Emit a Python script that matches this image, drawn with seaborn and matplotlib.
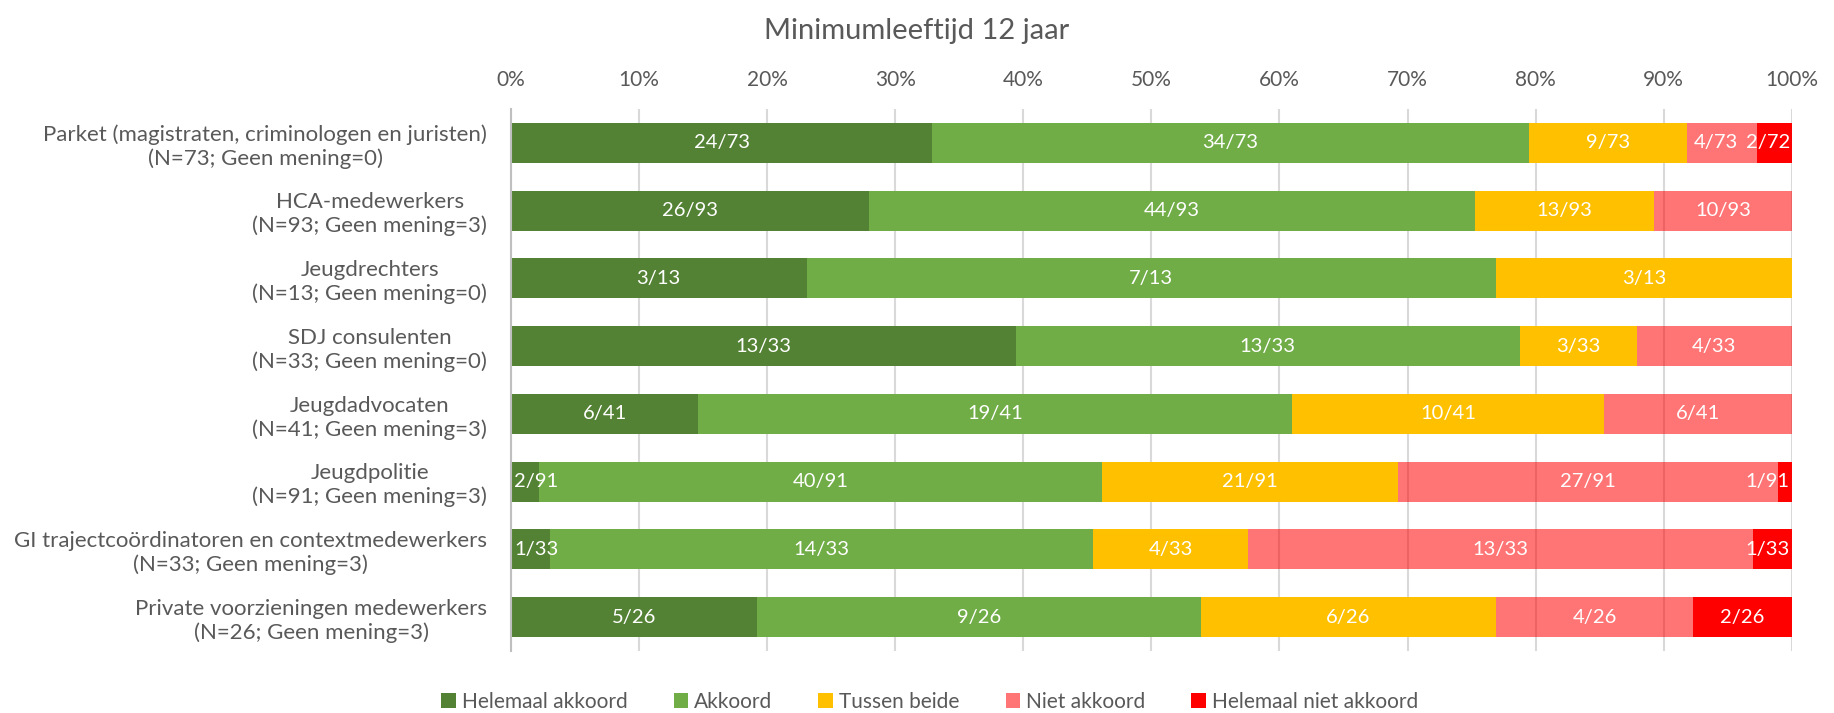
import seaborn as sns
import numpy as np
import pandas as pd
from matplotlib import pyplot as plt

categories = [
    "Parket (magistraten, criminologen en juristen)\n(N=73; Geen mening=0)",
    "HCA-medewerkers\n(N=93; Geen mening=3)",
    "Jeugdrechters\n(N=13; Geen mening=0)",
    "SDJ consulenten\n(N=33; Geen mening=0)",
    "Jeugdadvocaten\n(N=41; Geen mening=3)",
    "Jeugdpolitie\n(N=91; Geen mening=3)",
    "GI trajectcoördinatoren en contextmedewerkers\n(N=33; Geen mening=3)",
    "Private voorzieningen medewerkers\n(N=26; Geen mening=3)",
]
totals = [73, 93, 13, 33, 41, 91, 33, 26]

# counts per answer, one list per answer category (same order as categories)
helemaal_akkoord = [24, 26, 3, 13, 6, 2, 1, 5]
akkoord = [34, 44, 7, 13, 19, 40, 14, 9]
tussen_beide = [9, 13, 3, 3, 10, 21, 4, 6]
niet_akkoord = [4, 10, 0, 4, 6, 27, 13, 4]
helemaal_niet_akkoord = [2, 0, 0, 0, 0, 1, 1, 2]

# denominators printed on the labels (the original has "2/72" on the first row)
label_denoms_red = [72, 93, 13, 33, 41, 91, 33, 26]

series = ["Helemaal akkoord", "Akkoord", "Tussen beide", "Niet akkoord", "Helemaal niet akkoord"]
colors = ["#548235", "#70AD47", "#FFC000", (1.0, 0.0, 0.0, 0.54), "#FF0000"]

counts = [helemaal_akkoord, akkoord, tussen_beide, niet_akkoord, helemaal_niet_akkoord]

sns.set_style("white")
plt.rcParams['font.family'] = ['Lato', 'DejaVu Sans']
grey = "#595959"

fig = plt.figure(figsize=(18.34, 7.13), dpi=100)
ax = fig.add_axes([0.2786, 0.087, 0.6984, 0.760])

ax.set_axisbelow(True)
ax.xaxis.grid(True, color="#D9D9D9", linewidth=1.5)

left = np.zeros(len(categories))
rows = [[] for _ in categories]
for name, vals, col in zip(series, counts, colors):
    vals = np.array(vals, dtype=float)
    pct = vals / np.array(totals) * 100
    df = pd.DataFrame({"cat": categories, "pct": pct})
    sns.barplot(data=df, x="pct", y="cat", order=categories, orient="h",
                color=col, left=left.copy(), width=0.59, errorbar=None,
                saturation=1, linewidth=0, label=name, ax=ax)
    denoms = label_denoms_red if name == "Helemaal niet akkoord" else totals
    for i, (rect, v, d) in enumerate(zip(ax.containers[-1], vals, denoms)):
        if v <= 0:
            continue
        cx = rect.get_x() + rect.get_width() / 2
        cy = rect.get_y() + rect.get_height() / 2
        rows[i].append(ax.text(cx, cy, f"{int(v)}/{d}", ha="center", va="center",
                               color="white", fontsize=14.5))
    left += pct

ax.set_xlim(0, 100)
ax.set_xticks(np.arange(0, 101, 10))
ax.set_xticklabels([f"{t}%" for t in range(0, 101, 10)])
ax.xaxis.tick_top()
ax.tick_params(axis="x", length=0, pad=14, labelsize=15, labelcolor=grey)
ax.tick_params(axis="y", length=0, pad=17, labelsize=16, labelcolor=grey)
for lbl in ax.get_yticklabels():
    lbl.set_multialignment("center")
ax.set_xlabel("")
ax.set_ylabel("")
for s in ["top", "right", "bottom"]:
    ax.spines[s].set_visible(False)
ax.spines["left"].set_color("#BFBFBF")
ax.spines["left"].set_linewidth(1.5)

fig.suptitle("Minimumleeftijd 12 jaar", y=0.975, fontsize=21, color=grey)

handles, labs = ax.get_legend_handles_labels()
if ax.get_legend() is not None:
    ax.get_legend().remove()
fig.legend(handles, labs, loc="lower center", bbox_to_anchor=(0.507, -0.025),
           ncol=5, frameon=False, fontsize=15, labelcolor=grey,
           handlelength=0.7, handleheight=0.7, handletextpad=0.3,
           columnspacing=2.2)

# keep data labels inside the plot area and apart, like the original
fig.canvas.draw()
renderer = fig.canvas.get_renderer()
axbb = ax.get_window_extent(renderer)
ppu = axbb.width / 100.0
for row in rows:
    for t in row:
        bb = t.get_window_extent(renderer)
        x = t.get_position()[0]
        if bb.x1 > axbb.x1 - 1:
            t.set_x(x - (bb.x1 - axbb.x1 + 2) / ppu)
        elif bb.x0 < axbb.x0 + 1:
            t.set_x(x + (axbb.x0 - bb.x0 + 3) / ppu)
    # push overlapping labels to the left, from right to left
    for a, b in zip(row[-2::-1], row[:0:-1]):
        ba = a.get_window_extent(renderer)
        bb = b.get_window_extent(renderer)
        if ba.x1 > bb.x0 - 8:
            a.set_x(a.get_position()[0] - (ba.x1 - bb.x0 + 8) / ppu)

fig.savefig("out.png", dpi=100)
